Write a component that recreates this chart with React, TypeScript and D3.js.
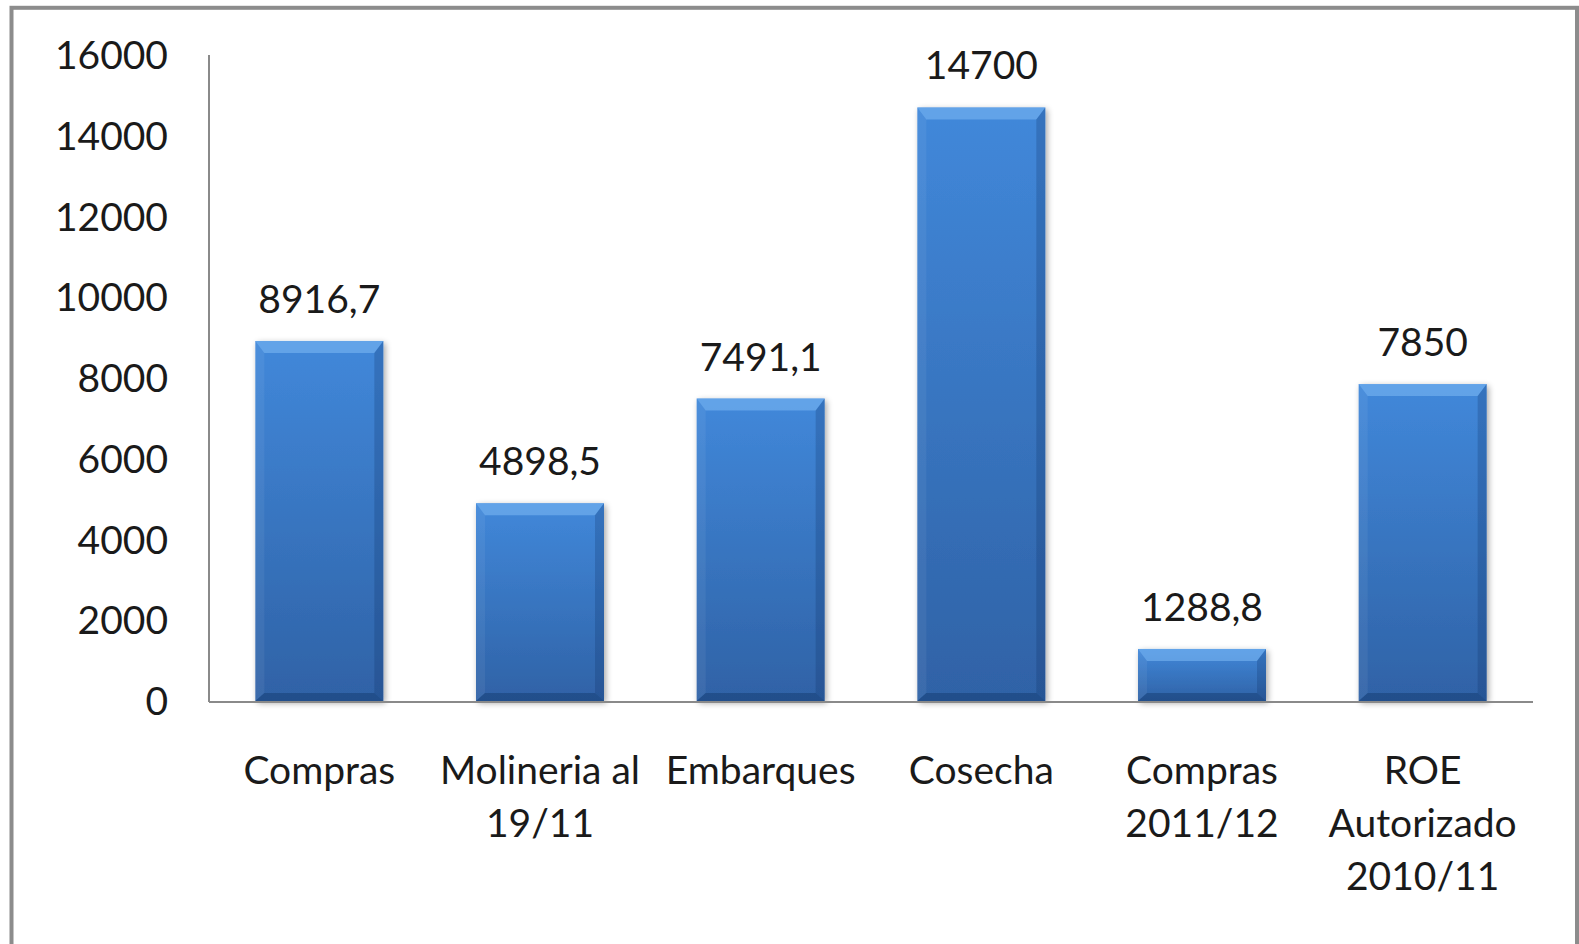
import React from "react";
import * as d3 from "d3";

const categories = [
  ["Compras"],
  ["Molineria al", "19/11"],
  ["Embarques"],
  ["Cosecha"],
  ["Compras", "2011/12"],
  ["ROE", "Autorizado", "2010/11"],
];
const values = [8916.7, 4898.5, 7491.1, 14700, 1288.8, 7850];
const yTicks = [0, 2000, 4000, 6000, 8000, 10000, 12000, 14000, 16000];

const W = 1579;
const H = 944;
const FONT = "Lato, 'Open Sans', sans-serif";
const FS = 39;

const App = () => {
  const left = 209;
  const right = 1533;
  const top = 55;
  const bottom = 701;

  const keys = categories.map((c) => c.join(" "));
  const x = d3.scaleBand().domain(keys).range([left, right]).paddingInner(0.42).paddingOuter(0.21);
  const y = d3.scaleLinear().domain([0, 16000]).range([bottom, top]);
  const fmt = (v: number) => String(v).replace(".", ",");

  return (
    <svg
      width={W}
      height={H}
      style={{ position: "absolute", left: 0, top: 0, display: "block", background: "#fff" }}
    >
      <defs>
        <linearGradient id="barFill" x1="0" y1="0" x2="0" y2="1">
          <stop offset="0" stopColor="#4188da" />
          <stop offset="1" stopColor="#2f62a6" />
        </linearGradient>
        <filter id="shadow" x="-20%" y="-20%" width="140%" height="140%">
          <feGaussianBlur in="SourceAlpha" stdDeviation="3" />
          <feOffset dx="2" dy="2" result="b" />
          <feComponentTransfer>
            <feFuncA type="linear" slope="0.35" />
          </feComponentTransfer>
          <feMerge>
            <feMergeNode />
            <feMergeNode in="SourceGraphic" />
          </feMerge>
        </filter>
      </defs>

      <rect x={11.5} y={7.8} width={1565.5} height={H + 20} fill="none" stroke="#8c8c8c" strokeWidth={4} />

      {/* y axis labels */}
      {yTicks.map((t) => (
        <text
          key={t}
          x={168}
          y={y(t)}
          dy="0.36em"
          textAnchor="end"
          fontFamily={FONT}
          fontSize={FS}
          fill="#1a1a1a"
        >
          {t}
        </text>
      ))}

      {/* bars */}
      {values.map((v, i) => {
        const x0 = x(keys[i]) as number;
        const bw = x.bandwidth();
        const y0 = y(v);
        const h = bottom - y0;
        const bv = Math.min(12, h / 2);
        const sv = 9;
        const x1 = x0 + bw;
        return (
          <g key={i}>
            <rect x={x0} y={y0} width={bw} height={h} fill="url(#barFill)" filter="url(#shadow)" />
            <polygon
              points={`${x0},${y0} ${x1},${y0} ${x1 - sv},${y0 + bv} ${x0 + sv},${y0 + bv}`}
              fill="#7ab6f2"
              opacity={0.6}
            />
            <polygon
              points={`${x0},${y0} ${x0 + sv},${y0 + bv} ${x0 + sv},${bottom - 8} ${x0},${bottom}`}
              fill="#ffffff"
              opacity={0.06}
            />
            <polygon
              points={`${x1},${y0} ${x1 - sv},${y0 + bv} ${x1 - sv},${bottom - 8} ${x1},${bottom}`}
              fill="#0a2a5a"
              opacity={0.22}
            />
            <polygon
              points={`${x0},${bottom} ${x0 + sv},${bottom - 8} ${x1 - sv},${bottom - 8} ${x1},${bottom}`}
              fill="#0a2a5a"
              opacity={0.35}
            />
            <text
              x={x0 + bw / 2}
              y={y0 - 28}
              textAnchor="middle"
              fontFamily={FONT}
              fontSize={FS}
              fill="#1a1a1a"
            >
              {fmt(v)}
            </text>
          </g>
        );
      })}

      {/* axes */}
      <line x1={left} x2={left} y1={top} y2={bottom + 1} stroke="#8a8a8a" strokeWidth={2} />
      <line x1={left} x2={right} y1={bottom + 1} y2={bottom + 1} stroke="#8a8a8a" strokeWidth={2} />

      {/* category labels */}
      {categories.map((lines, i) => {
        const cx = (x(keys[i]) as number) + x.bandwidth() / 2;
        return (
          <text key={i} textAnchor="middle" fontFamily={FONT} fontSize={FS} fill="#1a1a1a">
            {lines.map((l, j) => (
              <tspan key={j} x={cx} y={784 + j * 53}>
                {l}
              </tspan>
            ))}
          </text>
        );
      })}
    </svg>
  );
};

export default App;
